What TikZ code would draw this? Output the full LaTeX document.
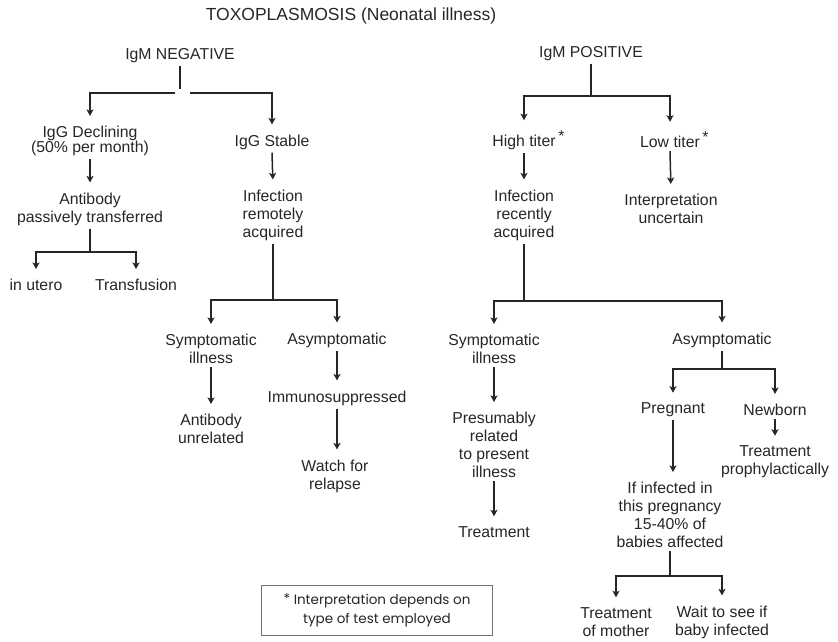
\documentclass[tikz,border=0pt]{standalone}
\usepackage{fontspec}
\setmainfont{Liberation Sans}
\newfontfamily\boxfont{Poppins}
\usetikzlibrary{arrows.meta}
\definecolor{ink}{gray}{0.15}
\begin{document}
\begin{tikzpicture}[x=1pt,y=-1pt,
  every node/.style={inner xsep=1pt, inner ysep=3pt, align=center,
    font=\fontsize{15.8}{18}\selectfont, text=ink},
  arr/.style={draw=ink, line width=1.5pt,
    -{Stealth[length=6.5pt,width=7pt,inset=1.5pt]}, shorten >=7pt},
  ln/.style={draw=ink, line width=1.5pt},
  notebox/.style={draw=black!55, line width=0.9pt, minimum width=231pt,
    minimum height=50pt, inner sep=0pt,
    font=\boxfont\fontsize{13.5}{19}\selectfont}
]
\useasboundingbox (0,0) rectangle (838,642);

% ---------- nodes ----------
\node (title) at (351,16) [font=\fontsize{17.5}{20}\selectfont] {TOXOPLASMOSIS (Neonatal illness)};

\node (neg) at (180,56) {IgM NEGATIVE};
\node (igd) at (90,141) [font=\fontsize{15.8}{15}\selectfont] {IgG Declining\\(50\% per month)};
\node (abp) at (90,209) {Antibody\\passively transferred};
\node (utero) at (36,285) {in utero};
\node (transf) at (136,285) {Transfusion};
\node (igs) at (272,142) {IgG Stable};
\node (irem) at (273,215) {Infection\\remotely\\acquired};
\node (sym1) at (211,349) {Symptomatic\\illness};
\node (abu) at (211,429) {Antibody\\unrelated};
\node (asy1) at (337,340) {Asymptomatic};
\node (imm) at (337,398) {Immunosuppressed};
\node (watch) at (335,476) {Watch for\\relapse};

\node (pos) at (591,54) {IgM POSITIVE};
\node (high) at (524,140) {High titer\rlap{\,\raisebox{5pt}{*}}};
\node (low) at (670,140) {Low titer\rlap{\,\raisebox{5pt}{*}}};
\node (irec) at (524,215) {Infection\\recently\\acquired};
\node (interp) at (671,209) {Interpretation\\uncertain};
\node (sym2) at (494,349) {Symptomatic\\illness};
\node (pres) at (494,445) {Presumably\\related\\to present\\illness};
\node (treat) at (494,532) {Treatment};
\node (asy2) at (722,340) {Asymptomatic};
\node (preg) at (673,410) {Pregnant};
\node (newb) at (775,410) {Newborn};
\node (proph) at (775,462) {Treatment\\prophylactically};
\node (ifinf) at (670,515) {If infected in\\this pregnancy\\15-40\% of\\babies affected};
\node (tmom) at (616,622) {Treatment\\of mother};
\node (wait) at (722,622) {Wait to see if\\baby infected};

\node[notebox] (note) at (377,610) {\raisebox{1pt}{*} Interpretation depends on\\type of test employed};

% ---------- bar levels ----------
\coordinate (negstem) at (180,89);
\coordinate (negL) at (175,93);
\coordinate (negR) at (190,93);
\coordinate (b2) at (0,252);
\coordinate (b3) at (0,300);
\coordinate (b4) at (0,96);
\coordinate (b5) at (0,301);
\coordinate (b6) at (0,369);
\coordinate (b7) at (0,576);

% ---------- connectors ----------
% IgM negative (bar broken beside the stem, as printed)
\draw[ln] (neg.south) -- (negstem);
\draw[arr] (negL) -| (igd.north);
\draw[arr] (negR) -| (igs.north);

\draw[arr] (igd.south) -- (abp.north);
\draw[ln] (abp.south) -- (abp.south|-b2);
\draw[arr] (abp.south|-b2) -| (utero.north);
\draw[arr] (abp.south|-b2) -| (transf.north);

\draw[arr] (igs.south) -- (irem.north);
\draw[ln] (irem.south) -- (irem.south|-b3);
\draw[arr] (irem.south|-b3) -| (sym1.north);
\draw[arr] (irem.south|-b3) -| (asy1.north);
\draw[arr] (sym1.south) -- (abu.north);
\draw[arr] (asy1.south) -- (imm.north);
\draw[arr] (imm.south) -- (imm.south|-watch.north);

% IgM positive
\draw[ln] (pos.south) -- (pos.south|-b4);
\draw[arr] (pos.south|-b4) -| (high.north);
\draw[arr] (pos.south|-b4) -| (low.north);
\draw[arr] (high.south) -- (irec.north);
\draw[arr] (low.south) -- (interp.north);

\draw[ln] (irec.south) -- (irec.south|-b5);
\draw[arr] (irec.south|-b5) -| (sym2.north);
\draw[arr] (irec.south|-b5) -| (asy2.north);
\draw[arr] (sym2.south) -- (pres.north);
\draw[arr] (pres.south) -- (treat.north);

\draw[ln] (asy2.south) -- (asy2.south|-b6);
\draw[arr] (asy2.south|-b6) -| (preg.north);
\draw[arr] (asy2.south|-b6) -| (newb.north);
\draw[arr] (newb.south) -- (proph.north);
\draw[arr] (preg.south) -- (preg.south|-ifinf.north);

\draw[ln] (ifinf.south) -- (ifinf.south|-b7);
\draw[arr] (ifinf.south|-b7) -| (tmom.north);
\draw[arr] (ifinf.south|-b7) -| (wait.north);
\end{tikzpicture}
\end{document}
